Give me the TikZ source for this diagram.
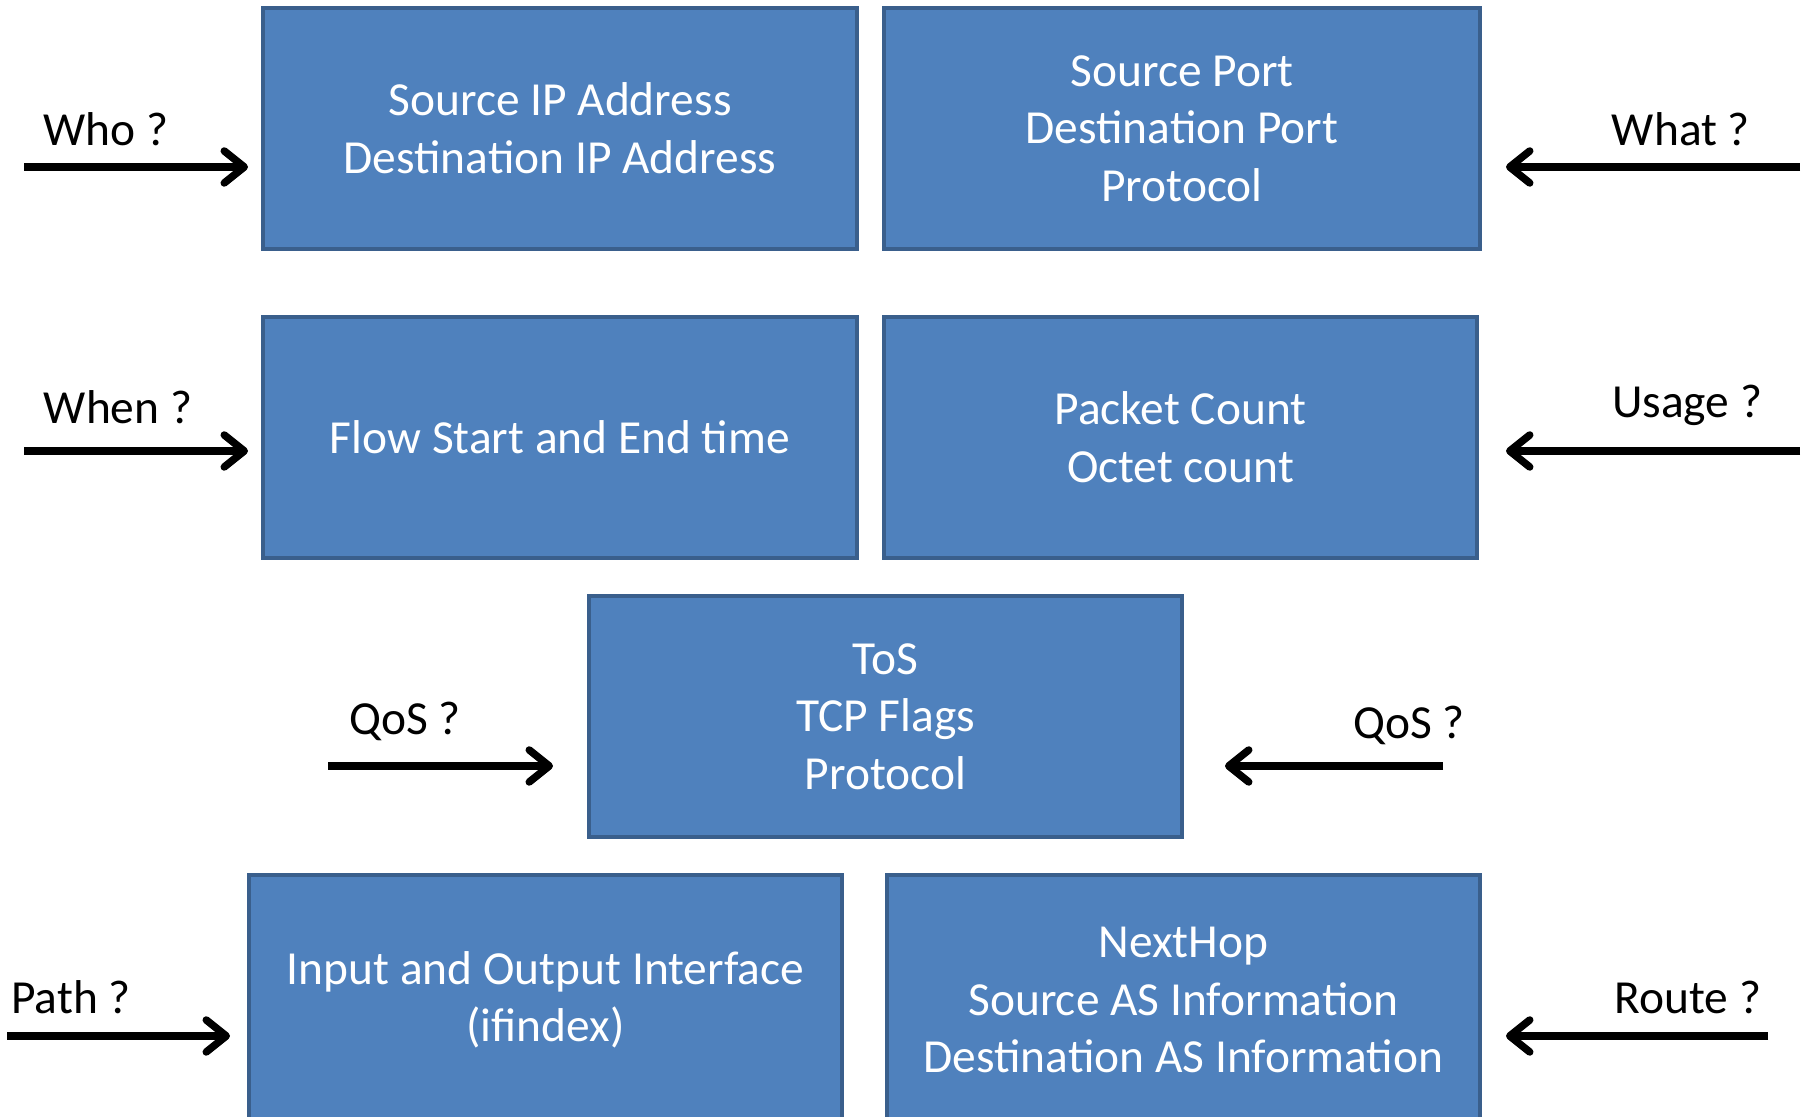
\documentclass[tikz,border=0pt]{standalone}
\usepackage{fontspec}
\setmainfont{Carlito}
\usepackage{tikz}
\usetikzlibrary{arrows.meta,positioning}

\definecolor{boxfill}{HTML}{4F81BD}
\definecolor{boxline}{HTML}{3A5F8C}

\begin{document}
\begin{tikzpicture}[font=\fontsize{13.5}{16.4}\selectfont, x=0.1mm, y=-0.1mm]
\tikzstyle{fbox}=[draw=boxline, fill=boxfill, line width=0.4mm, text=white, align=center, minimum height=24.1mm, inner sep=2pt]
\tikzstyle{qarr}=[line width=0.75mm, -{Straight Barb[length=2mm, width=3.2mm, line cap=round, line join=round]}]
\useasboundingbox (0,0) rectangle (1807,1117);
% flow record fields
\node[fbox, minimum width=59.4mm] (srcip) at (560,128.5) {Source IP Address\\Destination IP Address};
\node[fbox, minimum width=59.6mm, right=2.3mm of srcip] (ports) {Source Port\\Destination Port\\Protocol};
\node[fbox, minimum width=59.4mm, below=6.4mm of srcip] (ftime) {Flow Start and End time};
\node[fbox, minimum width=59.3mm, right=2.3mm of ftime] (counts) {Packet Count\\Octet count};
\node[fbox, minimum width=59.3mm] (tos) at (885.5,716.5) {ToS\\TCP Flags\\Protocol};
\node[fbox, minimum width=59.3mm, minimum height=25mm] (iface) at (545.5,1000) {Input and Output Interface\\(ifindex)};
\node[fbox, minimum width=59.3mm, minimum height=25mm, right=4.1mm of iface] (nhop) {NextHop\\Source AS Information\\Destination AS Information};
% questions
\node (who) at (106,129) {Who ?};
\node (what) at (1681,129) {What ?};
\node (when) at (118,407) {When ?};
\node (usage) at (1687,405) {Usage ?};
\node (qosl) at (405,721) {QoS ?};
\node (qosr) at (1409,725) {QoS ?};
\node (path) at (71,997) {Path ?};
\node (route) at (1688,997) {Route ?};
\coordinate (whoA) at (24,167);   \coordinate (whoB) at (248,167);
\coordinate (whatA) at (1800,167); \coordinate (whatB) at (1506,167);
\coordinate (whenA) at (24,451);  \coordinate (whenB) at (248,451);
\coordinate (usageA) at (1800,451); \coordinate (usageB) at (1506,451);
\coordinate (qoslA) at (328,766); \coordinate (qoslB) at (553,766);
\coordinate (qosrA) at (1443,766); \coordinate (qosrB) at (1225,766);
\coordinate (pathA) at (7,1036);  \coordinate (pathB) at (230,1036);
\coordinate (routeA) at (1768,1036); \coordinate (routeB) at (1506,1036);
\draw[qarr] (whoA) -- (whoB);
\draw[qarr] (whatA) -- (whatB);
\draw[qarr] (whenA) -- (whenB);
\draw[qarr] (usageA) -- (usageB);
\draw[qarr] (qoslA) -- (qoslB);
\draw[qarr] (qosrA) -- (qosrB);
\draw[qarr] (pathA) -- (pathB);
\draw[qarr] (routeA) -- (routeB);
\end{tikzpicture}
\end{document}
